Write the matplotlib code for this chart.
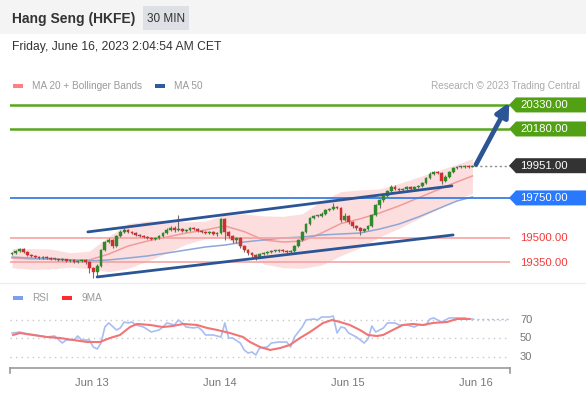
import numpy as np
import matplotlib
matplotlib.use("Agg")
import matplotlib.pyplot as plt
from matplotlib.patches import Rectangle, Polygon
import matplotlib.transforms as mtransforms

plt.rcParams['font.family'] = ['Liberation Sans', 'DejaVu Sans']

# ---------------- data ----------------
opens = [19400,19407,19420,19432,19413,19394,19388,19382,19375,19382,
         19375,19369,19369,19363,19369,19357,19363,19350,19357,19363,
         19350,19313,19288,19325,19425,19475,19488,19450,19513,19538,
         19550,19538,19532,19519,19513,19507,19500,19494,19500,19513,
         19532,19550,19563,19550,19556,19544,19550,19563,19556,19544,
         19538,19532,19538,19525,19532,19619,19538,19513,19488,19500,
         19450,19425,19407,19394,19382,19400,19407,19413,19419,19419,
         19425,19419,19413,19419,19450,19488,19538,19587,19625,19637,
         19637,19650,19675,19681,19694,19687,19612,19637,19600,19575,
         19563,19544,19556,19575,19644,19706,19737,19762,19794,19819,
         19806,19800,19806,19819,19806,19819,19825,19844,19875,19900,
         19912,19906,19856,19881,19912,19937,19944,19944,19951,19944]
closes = [19407,19420,19432,19413,19394,19388,19382,19375,19382,19375,
          19369,19369,19363,19369,19357,19363,19350,19357,19363,19350,
          19313,19288,19325,19425,19475,19488,19450,19513,19538,19550,
          19538,19532,19519,19513,19507,19500,19494,19500,19513,19532,
          19550,19563,19550,19556,19544,19550,19563,19556,19544,19538,
          19532,19538,19525,19532,19619,19538,19513,19488,19500,19450,
          19425,19407,19394,19382,19400,19407,19413,19419,19419,19425,
          19419,19413,19419,19450,19488,19538,19587,19625,19637,19637,
          19650,19675,19681,19694,19687,19612,19637,19600,19575,19563,
          19544,19556,19575,19644,19706,19737,19762,19794,19819,19806,
          19800,19806,19819,19806,19819,19825,19844,19875,19900,19912,
          19906,19856,19881,19912,19937,19944,19944,19951,19944,19951]
highs = [19415,19428,19440,19436,19416,19398,19392,19386,19388,19386,
         19380,19375,19374,19376,19372,19368,19366,19364,19370,19366,
         19356,19320,19335,19432,19482,19500,19494,19520,19550,19562,
         19556,19545,19538,19525,19518,19512,19506,19508,19520,19540,
         19560,19575,19572,19644,19562,19558,19570,19570,19562,19550,
         19545,19545,19543,19540,19625,19625,19545,19520,19508,19506,
         19456,19432,19412,19400,19408,19414,19420,19426,19428,19432,
         19432,19425,19426,19458,19495,19545,19595,19632,19645,19645,
         19660,19682,19690,19719,19700,19692,19656,19645,19606,19582,
         19570,19563,19582,19650,19712,19745,19770,19802,19830,19828,
         19812,19813,19826,19825,19826,19832,19852,19882,19910,19920,
         19918,19912,19890,19920,19945,19952,19952,19958,19958,19956]
lows = [19395,19402,19415,19408,19388,19380,19376,19368,19370,19368,
        19362,19362,19356,19358,19350,19350,19344,19345,19352,19340,
        19280,19250,19262,19318,19420,19470,19440,19445,19505,19530,
        19530,19525,19512,19505,19500,19493,19488,19488,19495,19508,
        19525,19544,19540,19545,19535,19538,19545,19548,19538,19530,
        19525,19525,19518,19515,19525,19490,19500,19470,19470,19440,
        19410,19395,19380,19360,19375,19392,19400,19406,19410,19412,
        19410,19405,19400,19412,19444,19482,19530,19580,19618,19628,
        19630,19644,19668,19675,19678,19600,19605,19590,19565,19550,
        19520,19535,19548,19568,19638,19690,19725,19755,19788,19798,
        19792,19794,19800,19798,19800,19812,19818,19838,19868,19894,
        19898,19835,19850,19875,19905,19930,19936,19938,19938,19940]

band_idx = [0,5,10,15,20,25,30,35,40,45,50,55,60,65,70,75,80,85,90,95,100,105,110,115,119]
ma20 = [19375,19369,19369,19363,19363,19400,19450,19481,19506,19531,19550,19575,19540,
        19488,19475,19481,19531,19590,19620,19656,19700,19750,19800,19850,19887]
band_upper = [19435,19434,19431,19408,19418,19510,19590,19606,19606,19601,19605,19645,19650,
              19638,19635,19651,19731,19790,19800,19806,19840,19880,19920,19960,19995]
band_lower = [19315,19304,19307,19318,19308,19290,19310,19356,19406,19461,19495,19505,19430,
              19338,19315,19311,19331,19390,19440,19506,19560,19620,19680,19740,19779]
ma50 = [19381,19375,19369,19363,19357,19363,19375,19388,19406,19425,19444,19456,19475,
        19488,19500,19506,19519,19525,19531,19556,19587,19631,19681,19731,19756]

rsi_idx = [0,2,4,6,9,11,13,14,16,17,18,20,21,22,23,24,25,27,28,29,30,31,32,34,36,38,39,40,42,43,
           44,45,47,48,49,50,52,54,55,56,57,59,60,61,62,63,64,66,67,69,71,72,73,75,76,78,79,80,82,83,
           84,85,86,87,89,90,91,92,93,94,96,97,99,100,102,104,105,107,108,109,111,112,113,115,117,118,119]
rsi_val = [55.9,57,54.9,53.8,51.6,52.7,45.1,48.4,48.4,52.7,48.4,48.4,40.8,38.6,45.1,62.4,66.8,59.2,61.4,67.8,
           66.8,67.8,64.6,62.4,57,59.2,62.4,66.8,64.6,70,66.8,62.4,61.4,62.4,59.2,53.8,53.8,51.6,66.8,50.5,
           50.5,45.1,37.6,34.3,35.4,32.2,39.7,40.8,45.1,46.2,46.2,40.8,51.6,62.4,70,71.1,70,73.2,73.2,74.3,
           55.9,62.4,61.4,55.9,51.6,48.4,45.1,49.5,63.5,57,61.4,66.8,66.8,64.6,64.6,62.4,64.6,64.6,71.1,72.2,
           67.8,70,72.2,72.2,72.2,71.1,71.1]
rsi_ma_idx = [0.3,2,5.4,9,12.4,15.8,19.4,22.7,25.3,27.9,30.5,32.3,35.7,39,41.6,44.2,47.8,50.4,53,56.3,
              59.7,61.5,64.1,66.7,69.3,71.8,74.4,77,80.4,82.7,84.8,87.3,89.9,92,94.3,95.9,98.4,101,103.6,
              106.2,108.8,112.4,115,118.3]
rsi_ma_val = [53.8,55.9,53.8,51.6,50.5,48.4,46.2,46.2,50.5,53.8,62.4,65.7,64.6,62.4,63.5,65.7,64.6,61.4,
              59.2,55.9,51.6,46.2,40.8,37.6,39.7,43,50.5,57,66.8,70,67.8,64.6,59.2,53.8,52.7,53.8,59.2,
              64.6,65.7,64.6,66.8,67.8,71.1,71.1]

levels_green = [20330, 20180]
level_last = 19951
level_blue = 19750
levels_red = [19500, 19350]

channel_up_idx = [19.6, 113.7]
channel_up_val = [19538, 19825]
channel_lo_idx = [22.0, 114.0]
channel_lo_val = [19257, 19519]
arrow_from = (119.9, 19958)
arrow_to = (128.5, 20345)

day_ticks = [20.6, 53.7, 86.7, 119.8]
day_labels = ['Jun 13', 'Jun 14', 'Jun 15', 'Jun 16']
rsi_levels = [70, 50, 30]

# ---------------- figure ----------------
W, H = 586, 394
fig = plt.figure(figsize=(W / 100, H / 100), dpi=100)
fig.patch.set_facecolor('white')

XLIM = (-0.52, 128.7)
ax = fig.add_axes([10 / W, 1 - 280 / H, 500 / W, 185 / H])
ax.set_xlim(*XLIM)
ax.set_ylim(19238, 20392)
ax.axis('off')

GREEN = '#58a61f'
BLUE_LVL = '#3b7ee0'
RED_LVL = '#f6a3a3'
CHAN = '#2c5596'

# Bollinger band
ax.fill_between(band_idx, band_lower, band_upper, color='#fcd9d9', alpha=0.85, lw=0, zorder=1)
ax.plot(band_idx, ma20, color='#f39a9a', lw=1.1, zorder=2)
ax.plot(band_idx, ma50, color='#8ea7d6', lw=1.1, zorder=2)

# levels
for lv in levels_green:
    ax.axhline(lv, color=GREEN, lw=1.8, zorder=3)
ax.axhline(level_blue, color=BLUE_LVL, lw=1.3, zorder=3)
for lv in levels_red:
    ax.axhline(lv, color=RED_LVL, lw=1.2, zorder=2)

# candles
o = np.array(opens); c = np.array(closes); h = np.array(highs); l = np.array(lows)
idx = np.arange(len(c))
cols = np.where(c > o, '#2f8a2a', np.where(c < o, '#cf2f2f', '#666666'))
ax.vlines(idx, l, h, color='#6e6e6e', lw=0.8, zorder=4)
bottoms = np.minimum(o, c)
heights = np.maximum(np.abs(c - o), 4)
ax.bar(idx, heights, bottom=bottoms, width=0.72, color=cols, edgecolor=cols, lw=0.3, zorder=5)

# channel lines
ax.plot(channel_up_idx, channel_up_val, color=CHAN, lw=2, zorder=6, solid_capstyle='round')
ax.plot(channel_lo_idx, channel_lo_val, color=CHAN, lw=2, zorder=6, solid_capstyle='round')

# last price dotted
ax.plot([idx[-1] + 0.6, XLIM[1]], [level_last, level_last], ls=(0, (1.5, 2)), color='#8a8a8a', lw=1, zorder=3)

# arrow
ax.annotate('', xy=arrow_to, xytext=arrow_from, annotation_clip=False,
            arrowprops=dict(arrowstyle='-|>', mutation_scale=20, lw=3.4, color=CHAN,
                            shrinkA=0, shrinkB=0), zorder=7)

# ---------------- RSI ----------------
rx = fig.add_axes([10 / W, 1 - 368 / H, 500 / W, 63 / H])
rx.set_xlim(*XLIM)
rx.set_ylim(18.1, 86.2)
rx.patch.set_alpha(0)
for s in ['top', 'left', 'right']:
    rx.spines[s].set_visible(False)
rx.spines['bottom'].set_color('#9a9a9a')
rx.spines['bottom'].set_linewidth(1.2)
rx.set_yticks([])
rx.set_xticks(day_ticks)
rx.set_xticklabels(day_labels, fontsize=8, color='#777777')
rx.tick_params(axis='x', length=0, pad=7)
for lv in rsi_levels:
    rx.axhline(lv, color='#c9c9c9', ls=(0, (1, 3)), lw=1)
    rx.text(1.02, lv, str(lv), transform=mtransforms.blended_transform_factory(rx.transAxes, rx.transData),
            fontsize=8, color='#777777', va='center', ha='left')
rx.plot(rsi_idx, rsi_val, color='#a8bdf2', lw=1.2)
rx.plot(rsi_ma_idx, rsi_ma_val, color='#f27474', lw=1.5)
rx.plot([rsi_idx[-1], XLIM[1]], [rsi_val[-1], rsi_val[-1]], ls=(0, (1.5, 2)), color='#a8bdf2', lw=1)
for xe in (0, 1):
    rx.plot([xe, xe], [0, -0.08], transform=rx.transAxes, clip_on=False, color='#9a9a9a', lw=1.2)

# ---------------- overlay (pixel coords) ----------------
ov = fig.add_axes([0, 0, 1, 1], zorder=10)
ov.set_xlim(0, W)
ov.set_ylim(H, 0)
ov.axis('off')
ov.patch.set_alpha(0)

ov.add_patch(Rectangle((0, 0), W, 34, fc='#f4f4f4', ec='none', zorder=0))
ov.add_patch(Rectangle((143, 6), 46, 24, fc='#dde0e5', ec='none', zorder=1))
ov.text(12, 19, 'Hang Seng (HKFE)', fontsize=10, fontweight='bold', color='#333333', va='center', ha='left')
ov.text(166, 19, '30 MIN', fontsize=8.5, color='#333333', va='center', ha='center')
ov.text(12, 47, 'Friday, June 16, 2023 2:04:54 AM CET', fontsize=8.7, color='#333333', va='center', ha='left')

ov.add_patch(Rectangle((13, 83.5), 10, 4, fc='#ff8080', ec='none'))
ov.text(32, 85.5, 'MA 20 + Bollinger Bands', fontsize=7.2, color='#999999', va='center', ha='left')
ov.add_patch(Rectangle((155, 83.5), 10, 4, fc='#2d5b9f', ec='none'))
ov.text(174, 85.5, 'MA 50', fontsize=7.2, color='#999999', va='center', ha='left')
ov.text(580, 85.5, 'Research \u00a9 2023 Trading Central', fontsize=7.2, color='#aaaaaa', va='center', ha='right')

ov.plot([0, W], [283, 283], color='#eeeeee', lw=1)

ov.add_patch(Rectangle((13, 296), 10, 4, fc='#7d9ff0', ec='none'))
ov.text(32, 298, 'RSI', fontsize=7.2, color='#999999', va='center', ha='left')
ov.add_patch(Rectangle((62, 296), 10, 4, fc='#ff2a2a', ec='none'))
ov.text(82, 298, '9MA', fontsize=7.2, color='#999999', va='center', ha='left')


def price_to_py(p):
    return H - ax.transData.transform((0, p))[1]


def tag(price, color):
    py = price_to_py(price)
    hh = 7.5
    poly = [(509, py), (516, py - hh), (586, py - hh), (586, py + hh), (516, py + hh)]
    ov.add_patch(Polygon(poly, closed=True, fc=color, ec='none'))
    ov.text(520, py + 0.5, f'{price:.2f}', fontsize=8.2, color='white', va='center', ha='left')


for lv in levels_green:
    tag(lv, '#52a114')
tag(level_last, '#333333')
tag(level_blue, '#2979ff')
for lv in levels_red:
    ov.text(520, price_to_py(lv) + 0.5, f'{lv:.2f}', fontsize=8.2, color='#f43b3b', va='center', ha='left')

fig.savefig('out.png', dpi=100)
